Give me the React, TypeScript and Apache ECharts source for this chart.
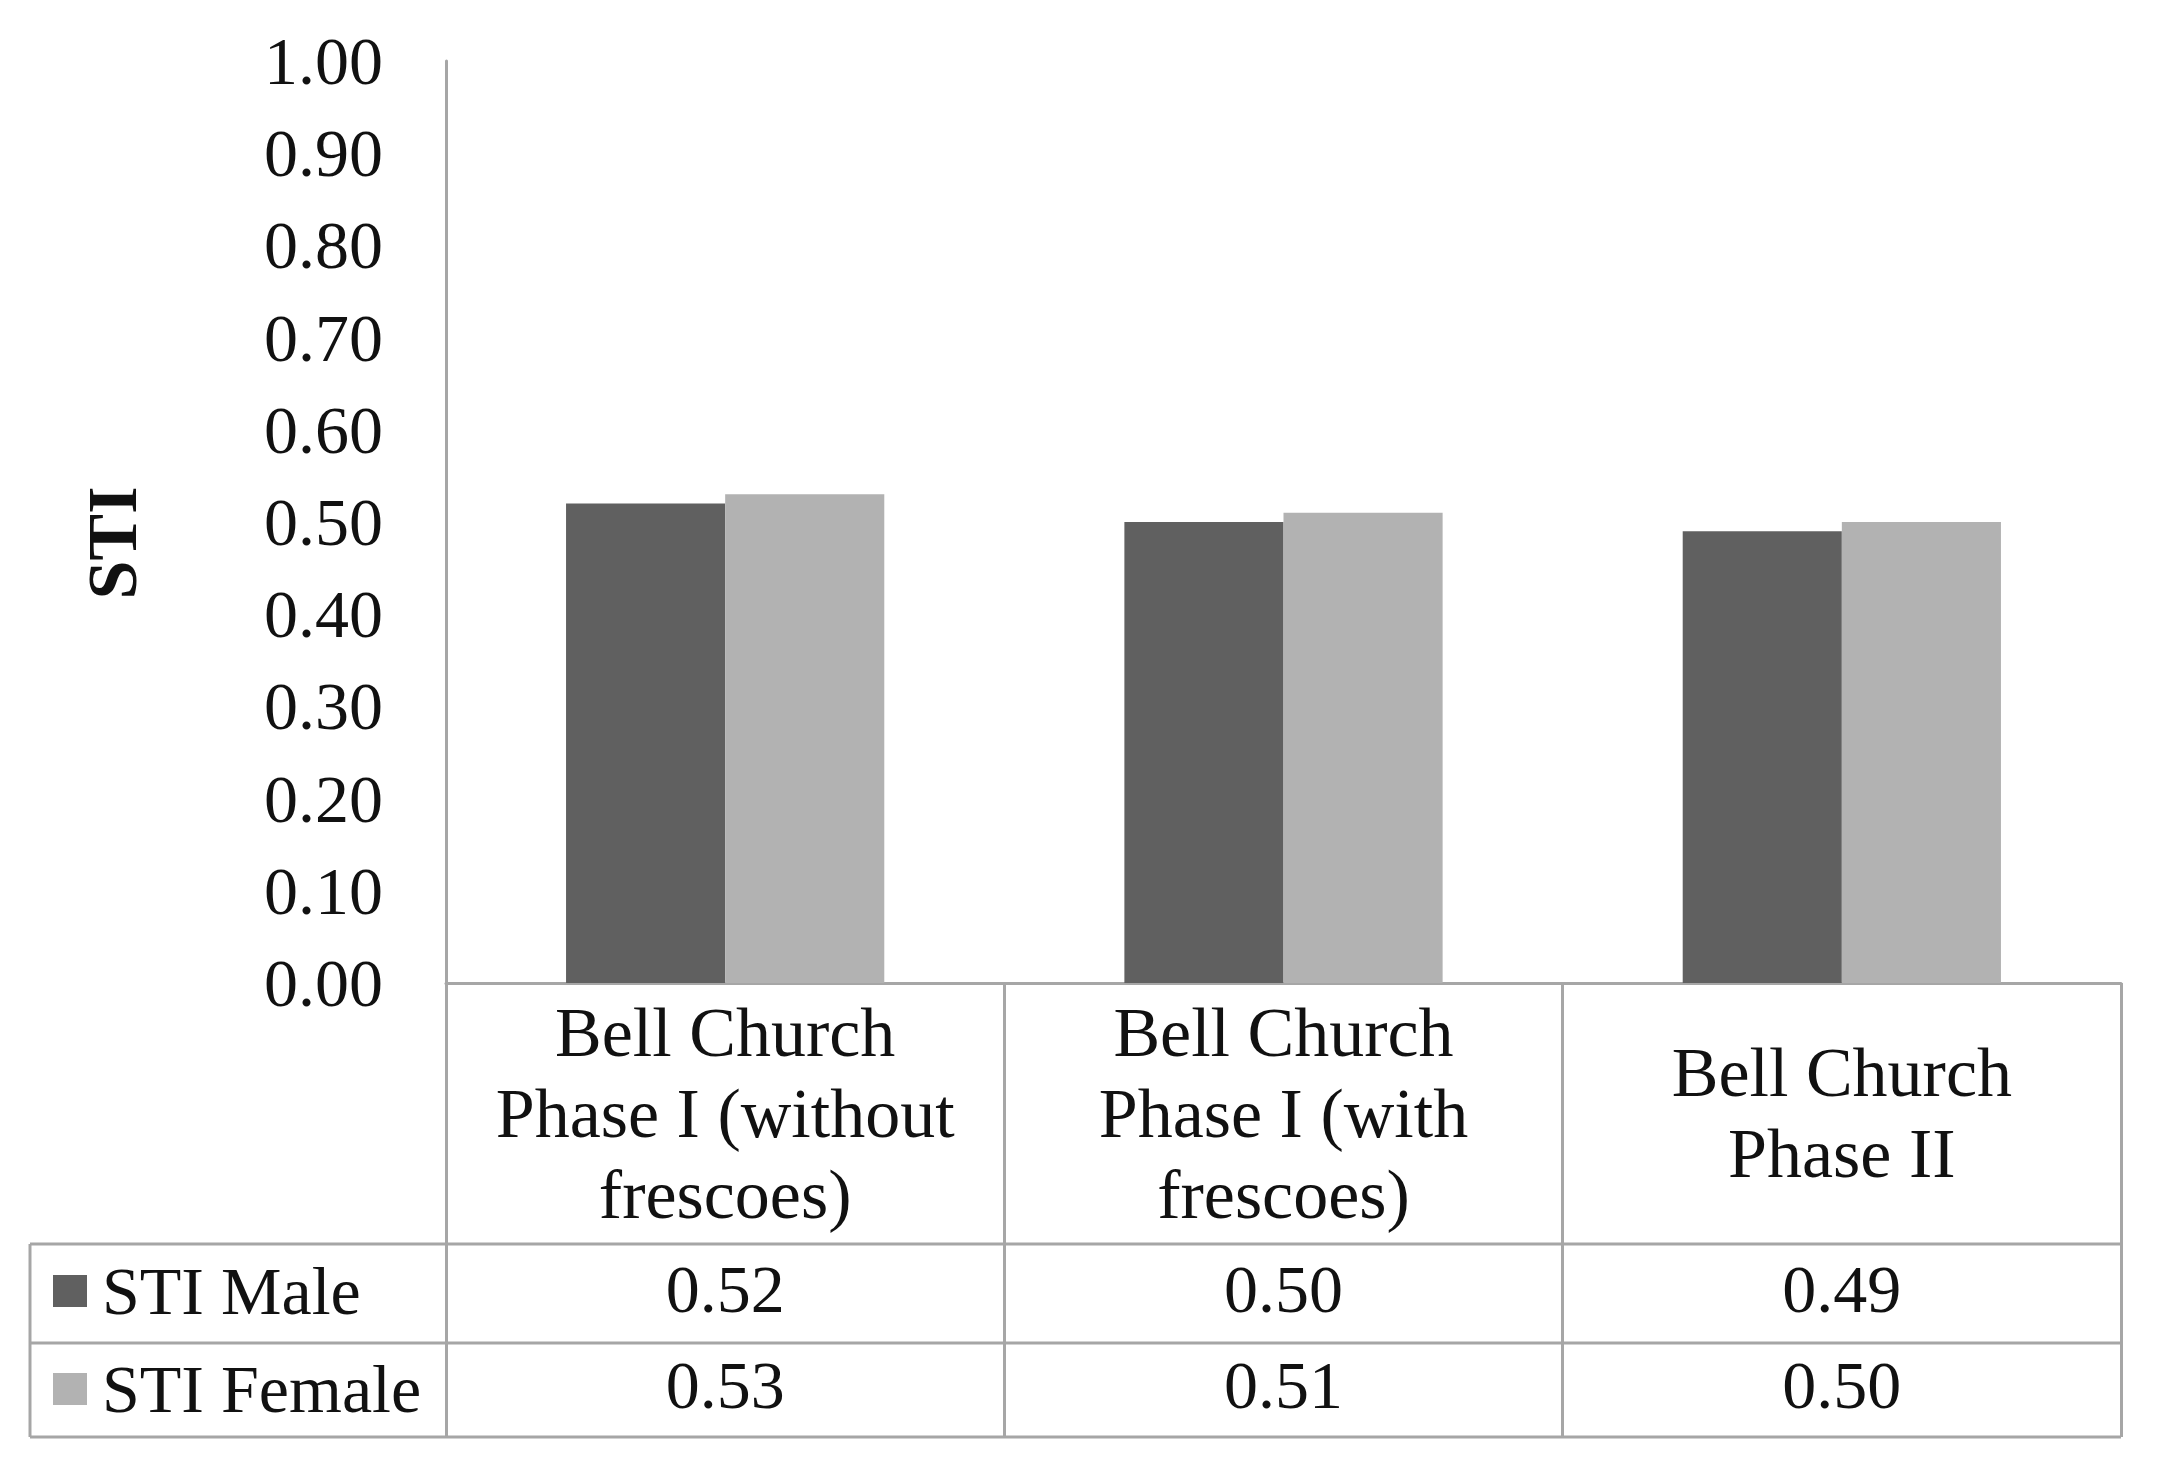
import React, { useEffect, useRef } from "react";
import * as echarts from "echarts";

const categories = [
  "Bell Church\nPhase I (without\nfrescoes)",
  "Bell Church\nPhase I (with\nfrescoes)",
  "Bell Church\nPhase II",
];
const seriesNames = ["STI Male", "STI Female"];
const maleValues = [0.52, 0.5, 0.49];
const femaleValues = [0.53, 0.51, 0.5];
const yMin = 0;
const yMax = 1;
const yInterval = 0.1;
const axisTitle = "STI";

const FONT = "'Liberation Serif', 'Times New Roman', serif";
const LINE = "#a6a6a6";
const MALE = "#606060";
const FEMALE = "#b2b2b2";

export default function App() {
  const ref = useRef<HTMLDivElement>(null);
  useEffect(() => {
    if (!ref.current) return;
    const chart = echarts.init(ref.current, undefined, { renderer: "svg" });
    const hLine = (y: number) => ({
      type: "line",
      shape: { x1: 30, y1: y, x2: 2121, y2: y },
      style: { stroke: LINE, lineWidth: 3 },
      z: 10,
    });
    chart.setOption({
      animation: false,
      backgroundColor: "#ffffff",
      textStyle: { fontFamily: FONT, color: "#111" },
      grid: { left: 446, top: 61, right: 36, bottom: 493, containLabel: false },
      legend: {
        data: seriesNames,
        orient: "vertical",
        left: 48,
        top: 1251,
        itemWidth: 34,
        itemHeight: 32,
        itemGap: 28,
        icon: "rect",
        selectedMode: false,
        textStyle: {
          fontFamily: FONT,
          fontSize: 68,
          lineHeight: 70,
          color: "#111",
          padding: [0, 0, 0, 10],
        },
      },
      xAxis: [
        {
          type: "category",
          data: categories,
          axisLine: { show: true, lineStyle: { color: LINE, width: 3 } },
          axisTick: {
            show: true,
            interval: 0,
            length: 454,
            lineStyle: { color: LINE, width: 3 },
          },
          axisLabel: {
            interval: 0,
            margin: 130,
            verticalAlign: "middle",
            fontSize: 70,
            lineHeight: 81,
            fontFamily: FONT,
            color: "#111",
          },
        },
        {
          type: "category",
          data: categories,
          position: "bottom",
          axisLine: { show: false },
          axisTick: { show: false },
          axisLabel: {
            interval: 0,
            margin: 306,
            verticalAlign: "middle",
            fontSize: 68,
            fontFamily: FONT,
            color: "#111",
            formatter: (_v: string, i: number) => maleValues[i].toFixed(2),
          },
        },
        {
          type: "category",
          data: categories,
          position: "bottom",
          axisLine: { show: false },
          axisTick: { show: false },
          axisLabel: {
            interval: 0,
            margin: 402,
            verticalAlign: "middle",
            fontSize: 68,
            fontFamily: FONT,
            color: "#111",
            formatter: (_v: string, i: number) => femaleValues[i].toFixed(2),
          },
        },
      ],
      yAxis: {
        type: "value",
        min: yMin,
        max: yMax,
        interval: yInterval,
        axisLine: { show: true, lineStyle: { color: LINE, width: 3 } },
        axisTick: { show: false },
        splitLine: { show: false },
        axisLabel: {
          margin: 63,
          fontSize: 68,
          fontFamily: FONT,
          color: "#111",
          formatter: (v: number) => v.toFixed(2),
        },
      },
      series: [
        {
          name: seriesNames[0],
          type: "bar",
          xAxisIndex: 0,
          data: maleValues,
          itemStyle: { color: MALE },
          barGap: "0%",
          barCategoryGap: "43%",
        },
        {
          name: seriesNames[1],
          type: "bar",
          xAxisIndex: 0,
          data: femaleValues,
          itemStyle: { color: FEMALE },
          barGap: "0%",
          barCategoryGap: "43%",
        },
      ],
      graphic: [
        hLine(1244),
        hLine(1343),
        hLine(1437),
        {
          type: "line",
          shape: { x1: 30, y1: 1244, x2: 30, y2: 1437 },
          style: { stroke: LINE, lineWidth: 3 },
          z: 10,
        },
        {
          type: "text",
          x: 112,
          y: 543,
          rotation: Math.PI / 2,
          style: {
            text: axisTitle,
            font: `bold 70px ${FONT}`,
            fill: "#111",
            align: "center",
            verticalAlign: "middle",
          },
        },
      ],
    });
    return () => chart.dispose();
  }, []);
  return (
    <div
      ref={ref}
      style={{ position: "absolute", left: 0, top: 0, width: 2157, height: 1476 }}
    />
  );
}
